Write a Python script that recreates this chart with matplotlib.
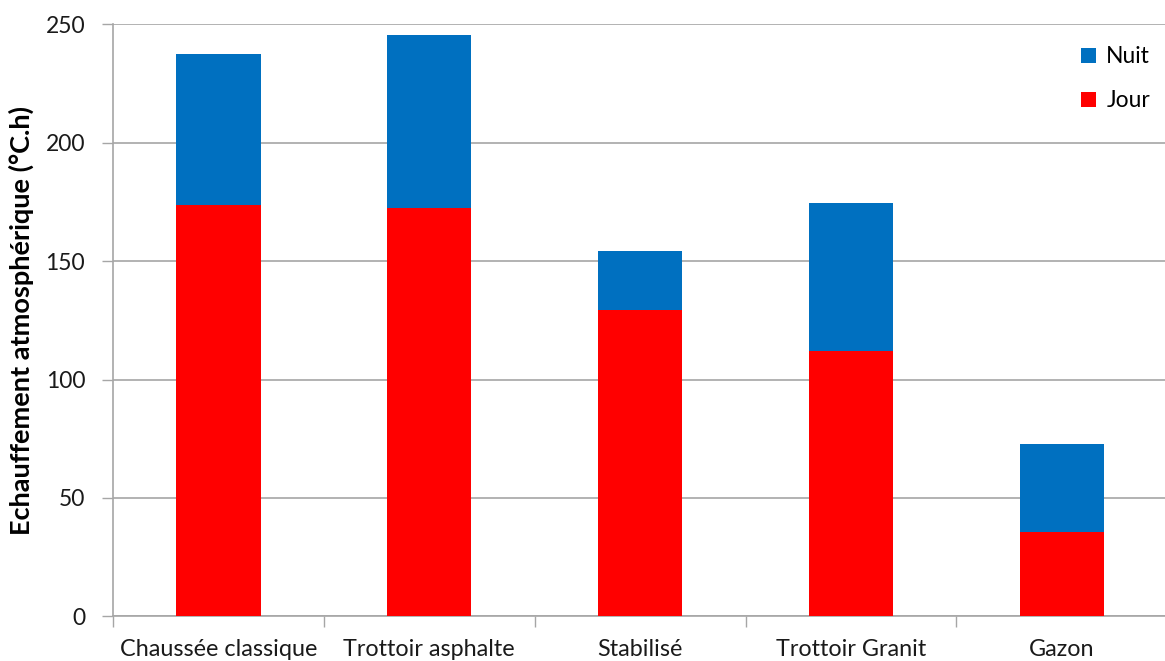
import numpy as np
import matplotlib.pyplot as plt

categories = ["Chaussée classique", "Trottoir asphalte", "Stabilisé",
              "Trottoir Granit", "Gazon"]
jour = [173.6, 172.6, 129.3, 112.1, 35.5]
nuit = [63.7, 72.9, 25.0, 62.4, 37.1]
yticks = [0, 50, 100, 150, 200, 250]

BLUE = "#0070C0"
RED = "#FF0000"
GRID = "#A6A6A6"

plt.rcParams["font.family"] = ["Lato", "DejaVu Sans"]

fig = plt.figure(figsize=(11.65, 6.61), dpi=100)
ax = fig.add_axes([0.097, 0.0676, 0.905, 0.8956])

x = np.arange(len(categories))
ax.bar(x, jour, width=0.4, color=RED, label="Jour", zorder=3)
ax.bar(x, nuit, width=0.4, bottom=jour, color=BLUE, label="Nuit", zorder=3)

ax.set_xlim(-0.5, len(categories) - 0.5)
ax.set_ylim(0, 250)
ax.set_yticks(yticks)
ax.yaxis.grid(True, color=GRID, linewidth=1.2, zorder=0)
ax.set_axisbelow(True)

# category labels centred, tick marks on the category boundaries
ax.set_xticks(x)
ax.set_xticklabels(categories, fontsize=16.8, color="#1a1a1a")
ax.tick_params(axis="x", which="major", length=0, pad=16)
ax.set_xticks(np.arange(-0.5, len(categories)), minor=True)
ax.tick_params(axis="x", which="minor", length=8, color=GRID, width=1)
ax.tick_params(axis="y", length=8, color=GRID, width=1, labelsize=16.5,
               labelcolor="#1a1a1a", pad=12)

for side in ("top", "right"):
    ax.spines[side].set_visible(False)
for side in ("left", "bottom"):
    ax.spines[side].set_color(GRID)
    ax.spines[side].set_linewidth(1.2)

ax.set_ylabel("Echauffement atmosphérique (°C.h)", fontsize=19.5,
              fontweight="bold", labelpad=8)

handles, labels = ax.get_legend_handles_labels()
ax.legend(handles[::-1], labels[::-1], loc="upper right", frameon=False,
          fontsize=16.5, handlelength=0.65, handleheight=0.65,
          handletextpad=0.45, labelspacing=1.0, borderaxespad=0.3,
          bbox_to_anchor=(0.999, 0.99))

fig.savefig("out.png", dpi=100)
